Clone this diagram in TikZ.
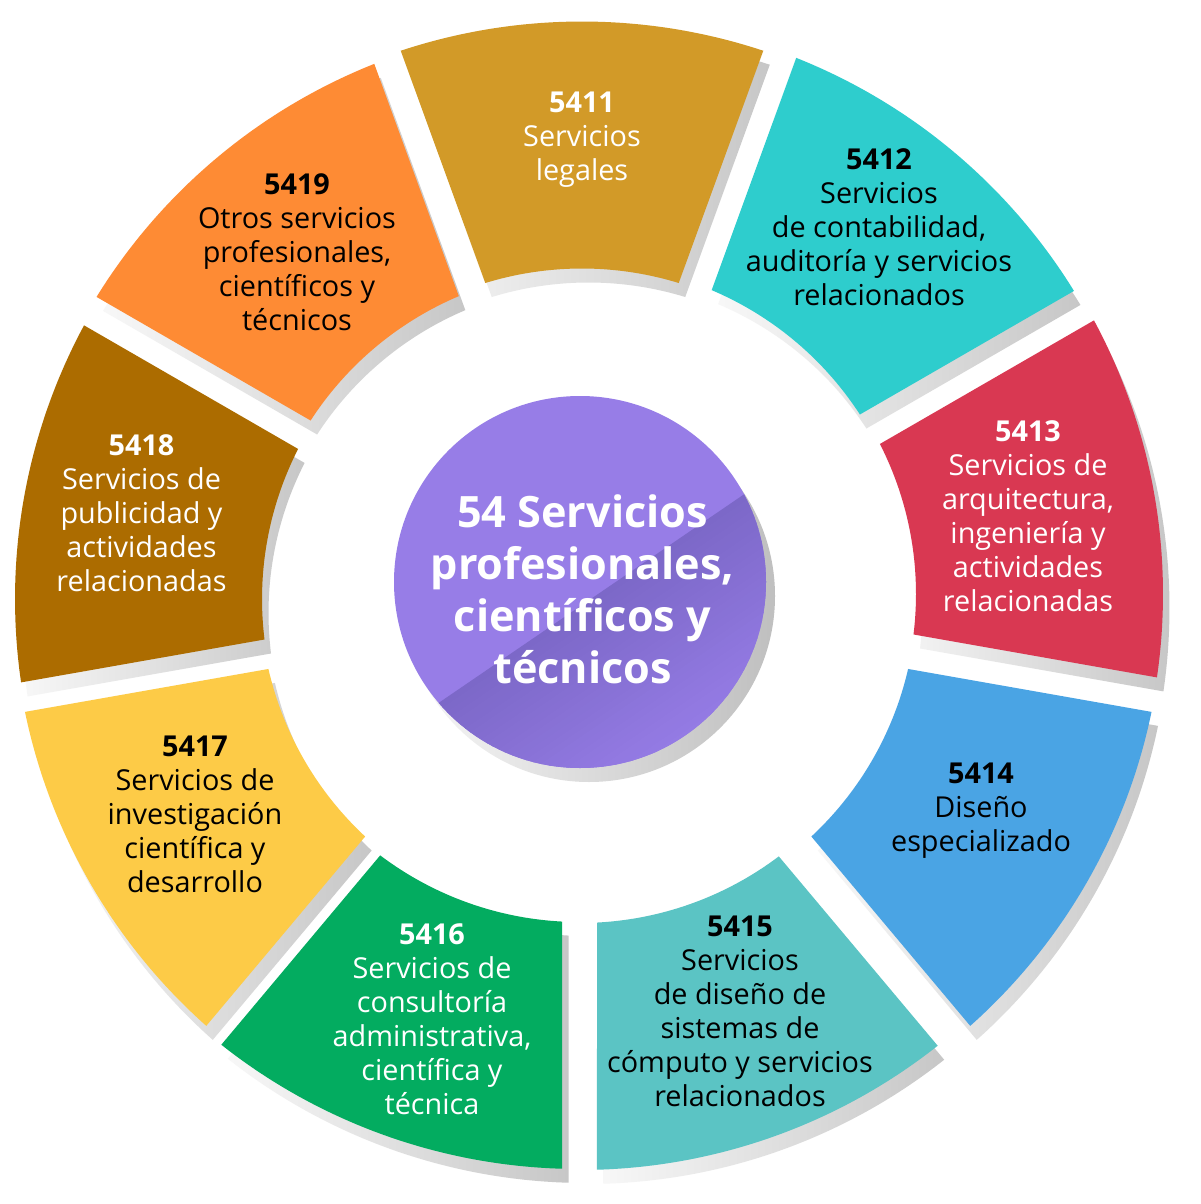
\documentclass[tikz,border=0pt]{standalone}
\usepackage{fontspec}
\setmainfont{Open Sans}
\definecolor{c5411}{HTML}{D29A28}
\definecolor{c5412}{HTML}{2ECDCD}
\definecolor{c5413}{HTML}{D93852}
\definecolor{c5414}{HTML}{4AA4E4}
\definecolor{c5415}{HTML}{5BC4C4}
\definecolor{c5416}{HTML}{03AC60}
\definecolor{c5417}{HTML}{FDCB47}
\definecolor{c5418}{HTML}{AC6C00}
\definecolor{c5419}{HTML}{FE8B34}
\definecolor{cpurple}{HTML}{977DE7}
\definecolor{cpurpledark}{HTML}{7C68C8}
\newcommand\segpath[3]{plot[domain={#1-17.047}:{#1+17.047},samples=40] ({581+#2+330*cos(\x)},{595+#3+330*sin(\x)}) -- plot[domain={#1+18.312}:{#1-18.312},samples=60] ({581+#2+577*cos(\x)},{595+#3+577*sin(\x)}) -- cycle}
\tikzset{
  lbl/.style={align=center, font=\fontsize{28.8}{34}\selectfont, inner sep=0pt},
  segshadow/.style={left color=black!3, right color=black!22, shift={(6.5,14)}},
}
\begin{document}
\begin{tikzpicture}[x=1pt,y=-1pt]
\useasboundingbox (0,0) rectangle (1200,1204);
\fill[white] (0,0) rectangle (1200,1204);
% shadows
\foreach \a/\sx/\sy in {-90/1/3.5,-50/2/-1,-10/5/-1,30/5.5/0,70/-1/-2,110/-2/-3,150/9/0,190/11/4,230/6.5/5}{
  \shade[segshadow] \segpath{\a}{\sx}{\sy};
}
% segments
\foreach \a/\sx/\sy/\c in {-90/1/3.5/c5411,-50/2/-1/c5412,-10/5/-1/c5413,30/5.5/0/c5414,70/-1/-2/c5415,110/-2/-3/c5416,150/9/0/c5417,190/11/4/c5418,230/6.5/5/c5419}{
  \fill[\c] \segpath{\a}{\sx}{\sy};
}
% central circle
\shade[left color=black!3, right color=black!25] (589,596) circle[radius=186pt];
\fill[cpurple] (580,582) circle[radius=186pt];
\begin{scope}
\clip (580,582) circle[radius=186pt];
\foreach \i in {0,...,29}{
  \pgfmathsetmacro\da{6*\i}
  \pgfmathsetmacro\db{6*\i+7}
  \pgfmathtruncatemacro\pc{100*\i/30}
  \fill[cpurple!\pc!cpurpledark] ({357.4+0.564*\da},{758.4+0.8256*\da}) -- ({825.6+0.564*\da},{438.6+0.8256*\da}) -- ({825.6+0.564*\db},{438.6+0.8256*\db}) -- ({357.4+0.564*\db},{758.4+0.8256*\db}) -- cycle;
}
\end{scope}
% labels
\node[lbl, text=white] (t5411) at (582,140) {\textbf{5411}\\Servicios\\legales};
\node[lbl, text=black] (t5412) at (879,227) {\textbf{5412}\\Servicios\\de contabilidad,\\auditoría y servicios\\relacionados};
\node[lbl, text=white] (t5413) at (1028,516) {\textbf{5413}\\Servicios de\\arquitectura,\\ingeniería y\\actividades\\relacionadas};
\node[lbl, text=black] (t5414) at (981,810.5) {\textbf{5414}\\Diseño\\especializado};
\node[lbl, text=black] (t5415) at (740,1011) {\textbf{5415}\\Servicios\\de diseño de\\sistemas de\\cómputo y servicios\\relacionados};
\node[lbl, text=white] (t5416) at (432,1019) {\textbf{5416}\\Servicios de\\consultoría\\administrativa,\\científica y\\técnica};
\node[lbl, text=black] (t5417) at (195,814.5) {\textbf{5417}\\Servicios de\\investigación\\científica y\\desarrollo};
\node[lbl, text=white] (t5418) at (141.5,513) {\textbf{5418}\\Servicios de\\publicidad y\\actividades\\relacionadas};
\node[lbl, text=black] (t5419) at (297,252.5) {\textbf{5419}\\Otros servicios\\profesionales,\\científicos y\\técnicos};
\node[align=center, inner sep=0pt, font=\fontsize{43.2}{52}\selectfont\bfseries, text=white] (tcenter) at (582.5,589.5) {54 Servicios\\profesionales,\\científicos y\\técnicos};
\end{tikzpicture}
\end{document}
